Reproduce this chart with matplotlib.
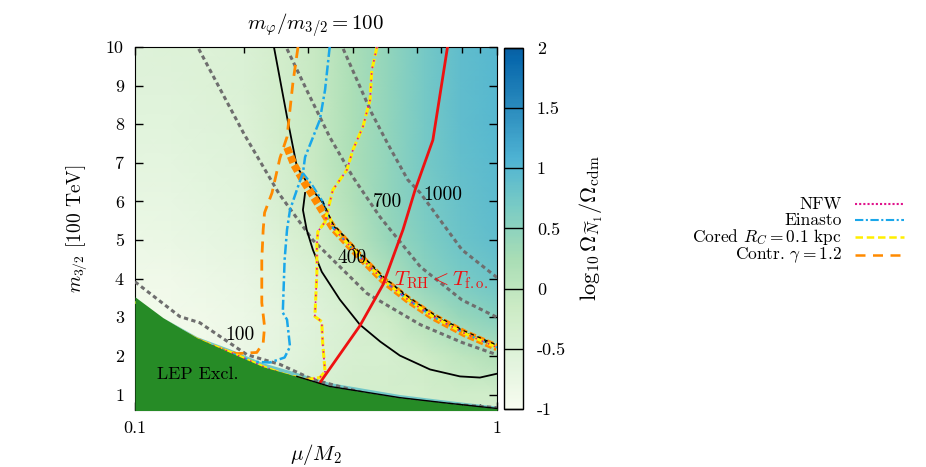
import numpy as np
import matplotlib
matplotlib.use('Agg')
import matplotlib.pyplot as plt
from matplotlib.colors import Normalize, LinearSegmentedColormap
from matplotlib.lines import Line2D

plt.rcParams['font.family'] = ['cmr10', 'DejaVu Serif']
plt.rcParams['mathtext.fontset'] = 'cm'
plt.rcParams['axes.unicode_minus'] = False

# ---------------- data ----------------
grid_r = [0.1, 0.126, 0.158, 0.2, 0.251, 0.316, 0.398, 0.5, 0.631, 0.794, 1.0]
grid_m = [0.6, 1, 2, 3, 4, 5, 6, 7, 8, 9, 10]
log_omega = [
    [-0.90, -0.90, -0.90, -0.80, -0.60, -0.40, -0.30, -0.30, -0.30, -0.28, -0.28],
    [-0.90, -0.90, -0.90, -0.80, -0.60, -0.40, -0.30, -0.30, -0.30, -0.25, -0.25],
    [-0.90, -0.90, -0.85, -0.78, -0.65, -0.50, -0.40, -0.35, -0.20, 0.00, 0.15],
    [-0.90, -0.90, -0.85, -0.80, -0.68, -0.55, -0.40, -0.20, 0.10, 0.40, 0.55],
    [-0.85, -0.85, -0.80, -0.72, -0.60, -0.45, -0.20, 0.15, 0.50, 0.68, 0.80],
    [-0.80, -0.75, -0.70, -0.65, -0.50, -0.30, 0.05, 0.40, 0.62, 0.80, 0.90],
    [-0.70, -0.70, -0.65, -0.60, -0.40, -0.15, 0.15, 0.45, 0.68, 0.85, 0.95],
    [-0.65, -0.65, -0.60, -0.55, -0.35, -0.10, 0.20, 0.45, 0.70, 0.88, 0.98],
    [-0.60, -0.60, -0.55, -0.50, -0.30, -0.10, 0.20, 0.45, 0.70, 0.90, 1.00],
    [-0.55, -0.55, -0.50, -0.45, -0.30, -0.10, 0.20, 0.45, 0.70, 0.90, 1.00],
    [-0.55, -0.50, -0.50, -0.45, -0.30, -0.10, 0.20, 0.45, 0.70, 0.90, 1.00],
]

# LEP exclusion boundary
lep_r = [0.1, 0.1195, 0.1483, 0.183, 0.226, 0.28, 0.345, 0.539, 0.742, 1.0]
lep_m = [3.53, 2.99, 2.47, 2.09, 1.72, 1.47, 1.21, 0.92, 0.77, 0.64]
strip_m = [3.53, 2.99, 2.50, 2.18, 1.82, 1.57, 1.31, 1.00, 0.84, 0.70]

# neutralino mass contours [GeV]
m100_r = [0.1, 0.133, 0.151, 0.204, 0.2515, 0.310, 0.466, 0.696, 1.0]
m100_m = [3.92, 3.02, 2.86, 2.03, 1.78, 1.39, 0.95, 0.77, 0.66]
m400_r = [0.15, 0.2, 0.25, 0.31, 0.437, 0.614, 0.8, 1.0]
m400_m = [9.95, 7.75, 6.2, 5.0, 3.62, 2.81, 2.35, 2.03]
m700_r = [0.263, 0.3, 0.345, 0.4, 0.475, 0.614, 0.8, 1.0]
m700_m = [9.95, 8.83, 7.67, 6.63, 5.6, 4.31, 3.45, 3.0]
m1000_r = [0.376, 0.45, 0.5, 0.567, 0.614, 0.8, 1.0]
m1000_m = [9.95, 8.3, 7.48, 6.56, 6.22, 4.75, 4.03]

# reheating temperature boundary
trh_r = [0.320, 0.418, 0.484, 0.550, 0.594, 0.665, 0.73]
trh_m = [1.23, 2.78, 3.84, 5.27, 6.30, 7.59, 10.0]

# black contours
blk1_r = [0.242, 0.263, 0.280, 0.304, 0.330, 0.352, 0.413, 0.484, 0.567, 0.665, 0.815, 1.0]
blk1_m = [10.0, 8.19, 6.90, 6.38, 5.97, 5.38, 4.68, 4.02, 3.50, 3.05, 2.60, 2.24]
blk2_r = [0.295, 0.291, 0.298, 0.310, 0.328, 0.368, 0.418, 0.476, 0.539, 0.653, 0.79, 0.897, 1.0]
blk2_m = [6.22, 5.78, 5.27, 4.75, 4.18, 3.46, 2.81, 2.37, 2.01, 1.65, 1.47, 1.44, 1.54]

# thin band where all profiles pile up
band_r = [0.320, 0.352, 0.413, 0.484, 0.567, 0.665, 0.815, 1.0]
band_m = [5.91, 5.32, 4.62, 3.97, 3.46, 3.02, 2.58, 2.22]

# Contracted gamma = 1.2
contr_r = [0.282, 0.273, 0.263, 0.2515, 0.239, 0.228, 0.226, 0.224, 0.224, 0.228, 0.226,
           0.217, 0.191, 0.175, 0.158, 0.13, 0.1]
contr_m = [10.0, 9.07, 7.67, 7.13, 6.22, 5.71, 5.27, 4.49, 3.38, 2.76, 2.34,
           2.09, 2.06, 2.16, 2.32, 2.70, 3.40]
contr_band_r = [0.263, 0.275, 0.291, 0.305] + band_r[1:]
contr_band_m = [7.4, 6.95, 6.55, 6.25] + band_m[1:]

# Einasto
ein_r = [0.345, 0.335, 0.324, 0.308, 0.295, 0.291, 0.280, 0.268, 0.263, 0.259, 0.256, 0.263,
         0.268, 0.259, 0.236, 0.212, 0.195, 0.161, 0.125, 0.1]
ein_m = [10.0, 8.89, 8.11, 7.59, 7.15, 6.74, 6.30, 5.78, 5.27, 4.49, 3.12, 2.94,
         2.24, 1.96, 1.83, 1.85, 1.98, 2.27, 2.75, 3.40]
ein_band_r = [0.291, 0.31, 0.33] + band_r[1:]
ein_band_m = [6.74, 6.40, 6.0] + band_m[1:]

# Cored R_C = 0.1 kpc (NFW coincides)
cored_r = [0.466, 0.451, 0.446, 0.426, 0.400, 0.385, 0.352, 0.345, 0.335, 0.320, 0.318, 0.318,
           0.314, 0.328, 0.330, 0.335, 0.324, 0.298, 0.259, 0.226, 0.183, 0.151, 0.117, 0.1]
cored_m = [10.0, 9.40, 8.63, 7.93, 7.34, 6.82, 6.30, 5.97, 5.47, 5.22, 4.88, 4.15,
           3.02, 2.89, 2.34, 1.59, 1.44, 1.39, 1.52, 1.72, 2.10, 2.40, 2.90, 3.40]
cored_band_r = [0.345, 0.352] + band_r[2:]
cored_band_m = [5.6, 5.32] + band_m[2:]
nfw_r = cored_r
nfw_m = cored_m
nfw_band_r = cored_band_r
nfw_band_m = cored_band_m

legend_labels = ['NFW', 'Einasto', r'Cored $R_C = 0.1$ kpc', r'Contr. $\gamma = 1.2$']
cbar_ticks = [-1, -0.5, 0, 0.5, 1, 1.5, 2]
cbar_ticklabels = ['-1', '-0.5', '0', '0.5', '1', '1.5', '2']
y_ticks = [1, 2, 3, 4, 5, 6, 7, 8, 9, 10]

# ---------------- figure ----------------
W, H = 926, 467
fig = plt.figure(figsize=(W / 100, H / 100), dpi=100)
ax = fig.add_axes([135 / W, 1 - 410 / H, 362 / W, 363 / H])
cax = fig.add_axes([504 / W, 1 - 409 / H, 19 / W, 361 / H])

base = plt.get_cmap('GnBu')
cmap = LinearSegmentedColormap.from_list('gnbu_t', base(np.linspace(0.0, 0.9, 256)))
norm = Normalize(vmin=-1, vmax=2)

R, M = np.meshgrid(grid_r, grid_m)
ax.pcolormesh(R, M, np.array(log_omega), cmap=cmap, norm=norm, shading='gouraud', zorder=0)

# light strip above LEP region
ax.fill_between(lep_r, lep_m, strip_m, color=cmap(norm(0.75)), lw=0, zorder=1)

gray = '#6e6e6e'
gls = (0, (1.4, 1.1))
for rr, mm in [(m100_r, m100_m), (m400_r, m400_m), (m700_r, m700_m), (m1000_r, m1000_m)]:
    ax.plot(rr, mm, color=gray, lw=2.2, ls=gls, zorder=3)

ax.plot(blk1_r, blk1_m, color='black', lw=1.3, zorder=4)
ax.plot(blk2_r, blk2_m, color='black', lw=1.3, zorder=4)

orange = '#ff8a00'
blue = '#1aa7ea'
yellow = '#ffee00'
pink = '#e0148c'

ax.plot(contr_r, contr_m, color=orange, lw=2.0, ls=(0, (4, 2.5)), zorder=5)
ax.plot(contr_band_r, contr_band_m, color=orange, lw=5.5, ls=(0, (0.9, 0.35)), zorder=5)
ax.plot(ein_r, ein_m, color=blue, lw=1.8, ls=(0, (4, 1.2, 1, 1.2)), zorder=6)
ax.plot(ein_band_r, ein_band_m, color=blue, lw=1.5, ls=(0, (4, 1.2, 1, 1.2)), zorder=6)
ax.plot(cored_r, cored_m, color=yellow, lw=2.2, ls=(0, (3, 1)), zorder=7)
ax.plot(cored_band_r, cored_band_m, color=yellow, lw=2.2, ls=(0, (3, 1.5)), zorder=7)
ax.plot(nfw_r, nfw_m, color=pink, lw=1.2, ls=(0, (1, 3)), zorder=8)
ax.plot(nfw_band_r, nfw_band_m, color=pink, lw=1.2, ls=(0, (1, 3)), zorder=8)
ax.plot(blk1_r[4:], [v + 0.04 for v in blk1_m[4:]], color='black', lw=0.9, ls=(0, (3, 3)), zorder=8)

ax.plot(trh_r, trh_m, color='#ee1111', lw=2.0, zorder=9)

# LEP exclusion
ax.fill_between(lep_r, lep_m, 0.0, color='#268b26', lw=0, zorder=10)
lep_ra = np.array(lep_r)
mask = lep_ra >= 0.28
ax.plot(lep_ra[mask], np.array(lep_m)[mask], color='black', lw=1.0, zorder=11)

# labels in plot
lbl = dict(fontsize=14, ha='center', va='center', zorder=12)
ax.text(0.195, 2.55, '100', **lbl)
ax.text(0.397, 4.54, '400', **lbl)
ax.text(0.50, 5.99, '700', **lbl)
ax.text(0.71, 6.17, '1000', **lbl)
ax.text(0.149, 1.52, 'LEP Excl.', fontsize=13, ha='center', va='center', zorder=12)
ax.text(0.70, 3.97, r'$T_{\rm RH} < T_{\rm f.o.}$', fontsize=15, color='#ee1111',
        ha='center', va='center', zorder=12)

ax.set_xscale('log')
ax.set_xlim(0.1, 1.0)
ax.set_ylim(0.6, 10)
ax.set_xticks([0.1, 1.0])
ax.set_xticklabels(['0.1', '1'])
ax.set_xticks([0.2, 0.3, 0.4, 0.5, 0.6, 0.7, 0.8, 0.9], minor=True)
ax.set_xticklabels([], minor=True)
ax.set_yticks(y_ticks)
ax.set_yticklabels([str(v) for v in y_ticks])
ax.tick_params(which='both', direction='in', top=True, right=True, labelsize=13, pad=8)
ax.tick_params(which='major', length=6, width=1)
ax.tick_params(which='minor', length=4, width=1)
ax.set_xlabel(r'$\mu/M_2$', fontsize=15, labelpad=4)
ax.set_ylabel(r'$m_{3/2}$ [100 TeV]', fontsize=14, labelpad=12)
ax.set_title(r'$m_{\varphi}/m_{3/2} = 100$', fontsize=15, pad=12)

# colorbar
cb = fig.colorbar(plt.cm.ScalarMappable(norm=norm, cmap=cmap), cax=cax)
cb.set_ticks(cbar_ticks)
cb.set_ticklabels(cbar_ticklabels)
cb.outline.set_linewidth(1)
cax.tick_params(direction='in', length=14, width=1, labelsize=13, pad=10, color='black')
cb.set_label(r'$\log_{10}\Omega_{\widetilde{N}_1}/\Omega_{\rm cdm}$', fontsize=16, labelpad=8)

# legend (gnuplot style, right-aligned text, sample on right)
styles = [dict(color=pink, lw=1.5, ls=(0, (1, 1))),
          dict(color=blue, lw=1.5, ls=(0, (4, 1.2, 1, 1.2))),
          dict(color=yellow, lw=1.8, ls=(0, (3, 1.5))),
          dict(color=orange, lw=1.8, ls=(0, (4, 3)))]
leg_y = [204, 220, 236.5, 255]
for lab, st, yy in zip(legend_labels, styles, leg_y):
    fy = 1 - yy / H
    fig.text(842 / W, fy, lab, ha='right', va='center', fontsize=12.5)
    fig.add_artist(Line2D([855 / W, 904 / W], [fy, fy], transform=fig.transFigure, **st))

fig.savefig('out.png', dpi=100)
